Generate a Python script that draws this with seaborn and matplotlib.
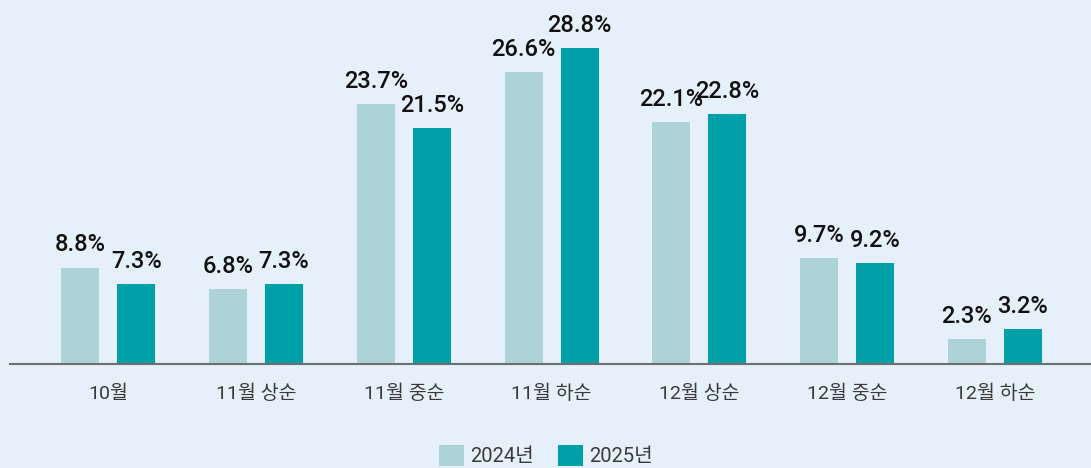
import pandas as pd
import matplotlib.pyplot as plt
import seaborn as sns
from matplotlib.patches import Patch

# Data
periods = ['10월', '11월 상순', '11월 중순', '11월 하순', '12월 상순', '12월 중순', '12월 하순']
years = ['2024년', '2025년']
share_2024 = [8.8, 6.8, 23.7, 26.6, 22.1, 9.7, 2.3]
share_2025 = [7.3, 7.3, 21.5, 28.8, 22.8, 9.2, 3.2]

df = pd.DataFrame({
    'period': periods * 2,
    'year': [years[0]] * len(periods) + [years[1]] * len(periods),
    'share': share_2024 + share_2025,
})

bg = '#e6f0fa'
palette = {years[0]: '#add3d8', years[1]: '#00a0a8'}

sns.set_theme(style='white')
plt.rcParams['font.family'] = ['Roboto', 'Noto Sans CJK KR', 'DejaVu Sans']

fig = plt.figure(figsize=(10.91, 4.68), dpi=100, facecolor=bg)
ax = fig.add_axes([10 / 1091, 1 - 364 / 468, 1 - 10 / 1091, 364 / 468])
ax.set_facecolor(bg)

sns.barplot(data=df, x='period', y='share', hue='year', palette=palette,
            width=0.757, gap=0.32, saturation=1, linewidth=0, ax=ax, legend=False)

# value labels above each bar
for cont in ax.containers:
    ax.bar_label(cont, fmt='%.1f%%', padding=8, fontsize=17, color='#111111',
                 fontweight='medium')

ax.set_xlim(-0.665, 6.65)
ax.set_ylim(0, 33.2)
ax.set_xlabel('')
ax.set_ylabel('')
ax.set_yticks([])
ax.tick_params(axis='x', length=0, pad=15, labelsize=14, labelcolor='#3a3a3a')
for side in ['top', 'right', 'left']:
    ax.spines[side].set_visible(False)
ax.spines['bottom'].set_color('#6e6e6e')
ax.spines['bottom'].set_linewidth(1.5)

handles = [Patch(facecolor=palette[y], edgecolor='none', label=y) for y in years]
fig.legend(handles=handles, loc='lower center', ncol=2, frameon=False,
           bbox_to_anchor=(0.5, -0.035), fontsize=14.5, handlelength=1.25,
           handleheight=1.25, handletextpad=0.3, columnspacing=1.2,
           labelcolor='#3a3a3a')

fig.savefig('out.png', dpi=100, facecolor=bg)
